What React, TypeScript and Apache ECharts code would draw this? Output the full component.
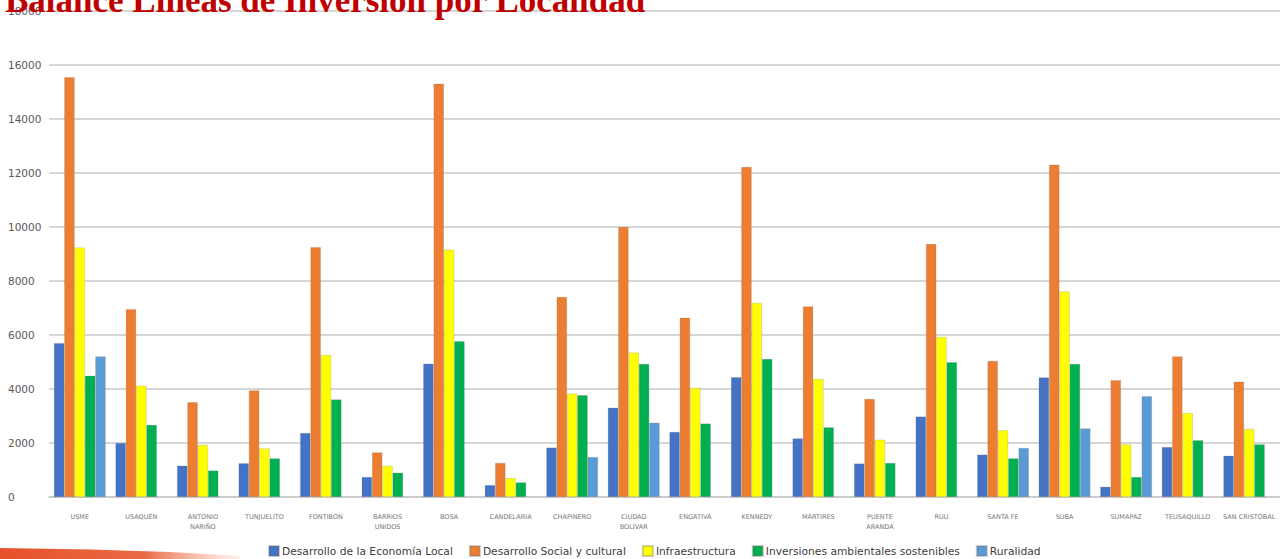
import React, { useEffect, useRef } from "react";
import * as echarts from "echarts";

const TITLE = "Balance Líneas de Inversión por Localidad";

const localidades = [
  "USME", "USAQUÉN", "ANTONIO\nNARIÑO", "TUNJUELITO", "FONTIBÓN", "BARRIOS\nUNIDOS", "BOSA",
  "CANDELARIA", "CHAPINERO", "CIUDAD\nBOLÍVAR", "ENGATIVÁ", "KENNEDY", "MÁRTIRES",
  "PUENTE\nARANDA", "RUU", "SANTA FE", "SUBA", "SUMAPAZ", "TEUSAQUILLO", "SAN CRISTÓBAL",
];

const seriesNames = [
  "Desarrollo de la Economía Local",
  "Desarrollo Social y cultural",
  "Infraestructura",
  "Inversiones ambientales sostenibles",
  "Ruralidad",
];

const economiaLocal = [5700, 2000, 1160, 1250, 2370, 740, 4940, 440, 1830, 3310, 2410, 4440, 2170, 1240, 2980, 1570, 4430, 380, 1850, 1530];
const socialCultural = [15550, 6960, 3510, 3950, 9250, 1650, 15310, 1260, 7410, 10000, 6640, 12220, 7060, 3630, 9370, 5040, 12310, 4330, 5210, 4270];
const infraestructura = [9240, 4120, 1930, 1800, 5260, 1150, 9160, 700, 3830, 5350, 4040, 7190, 4370, 2120, 5930, 2470, 7610, 1950, 3110, 2520];
const ambientales = [4490, 2670, 980, 1430, 3610, 900, 5770, 540, 3770, 4930, 2720, 5110, 2580, 1260, 4990, 1430, 4930, 740, 2100, 1950];
const ruralidad = [5210, null, null, null, null, null, null, null, 1480, 2750, null, null, null, null, null, 1820, 2540, 3730, null, null];

const colors = ["#4472C4", "#ED7D31", "#FFFF00", "#00B050", "#5B9BD5"];

const yMin = 0;
const yMax = 18000;
const yInterval = 2000;

export default function App() {
  const ref = useRef<HTMLDivElement>(null);

  useEffect(() => {
    if (!ref.current) return;
    const chart = echarts.init(ref.current, undefined, { renderer: "svg" });
    const allData = [economiaLocal, socialCultural, infraestructura, ambientales, ruralidad];
    chart.setOption({
      animation: false,
      backgroundColor: "#ffffff",
      color: colors,
      grid: { left: 49, width: 1232, top: 11, height: 486, containLabel: false },
      legend: {
        data: seriesNames,
        left: 268,
        top: 545,
        padding: 0,
        itemWidth: 10,
        itemHeight: 10,
        itemGap: 16,
        icon: "rect",
        textStyle: { fontFamily: "DejaVu Sans", fontSize: 10.7, color: "#404040", padding: [0, 0, 0, -2] },
      },
      xAxis: {
        type: "category",
        data: localidades,
        axisLine: { show: true, lineStyle: { color: "#c8c8c8", width: 1.6 } },
        axisTick: { show: false },
        axisLabel: {
          interval: 0,
          margin: 15,
          fontFamily: "DejaVu Sans",
          fontSize: 6.5,
          lineHeight: 10,
          color: "#767676",
        },
      },
      yAxis: {
        type: "value",
        min: yMin,
        max: yMax,
        interval: yInterval,
        axisLine: { show: false },
        axisTick: { show: false },
        splitLine: { lineStyle: { color: "#c8c8c8", width: 1.6 } },
        axisLabel: {
          align: "left",
          margin: 41,
          fontFamily: "DejaVu Sans",
          fontSize: 10.5,
          color: "#595959",
          formatter: (v: number) => String(v),
        },
      },
      series: seriesNames.map((name, i) => ({
        name,
        type: "bar",
        data: allData[i],
        barGap: "0%",
        barCategoryGap: "16%",
        itemStyle: { color: colors[i], borderColor: "rgba(110,110,110,0.35)", borderWidth: 0.6 },
      })),
      graphic: [
        {
          type: "polygon",
          shape: { points: [[0, 548], [90, 549.5], [170, 552], [240, 556], [240, 559], [0, 559]] },
          style: {
            fill: new echarts.graphic.LinearGradient(0, 0, 1, 0, [
              { offset: 0, color: "#E5512A" },
              { offset: 0.6, color: "#EA6A45" },
              { offset: 1, color: "rgba(245,160,130,0.15)" },
            ]),
          },
          z: 10,
        },
        {
          type: "text",
          x: 5,
          y: 0,
          style: {
            text: TITLE,
            font: 'bold 35px "Liberation Serif"',
            fill: "#C00000",
            verticalAlign: "middle",
            align: "left",
          },
          z: 10,
        },
      ],
    });
    return () => chart.dispose();
  }, []);

  return (
    <div
      ref={ref}
      style={{ position: "fixed", left: 0, top: 0, width: 1280, height: 559, background: "#fff" }}
    />
  );
}
